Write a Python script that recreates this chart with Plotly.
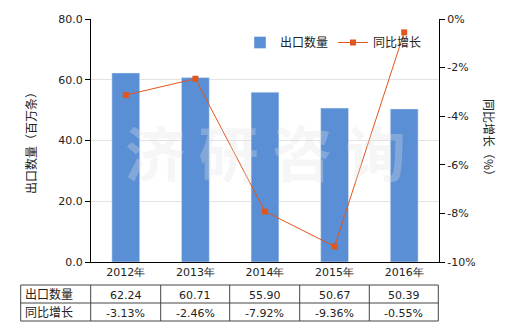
import plotly.graph_objects as go

years = ["2012年", "2013年", "2014年", "2015年", "2016年"]
export_qty = [62.24, 60.71, 55.90, 50.67, 50.39]
yoy_growth = [-3.13, -2.46, -7.92, -9.36, -0.55]
qty_labels = ["62.24", "60.71", "55.90", "50.67", "50.39"]
yoy_labels = ["-3.13%", "-2.46%", "-7.92%", "-9.36%", "-0.55%"]
left_ticks = [0, 20, 40, 60, 80]
right_ticks = [0, -2, -4, -6, -8, -10]

W, H = 520, 330
L, R, T, B = 91, 439, 19, 262

def px(x):
    return (x - L) / (R - L)

def py(y):
    return (B - y) / (B - T)

CJK = "Noto Sans CJK SC"
NUM = "DejaVu Sans"
bar_color = "#5b8fd5"
line_color = "#e0561c"

fig = go.Figure()
fig.add_trace(go.Bar(x=years, y=export_qty, name="出口数量", marker_color=bar_color,
                     width=0.4, yaxis="y"))
fig.add_trace(go.Scatter(x=years, y=yoy_growth, name="同比增长", mode="lines+markers",
                         line=dict(color=line_color, width=1),
                         marker=dict(symbol="square", size=6, color=line_color),
                         yaxis="y2"))

fig.update_layout(
    width=W, height=H,
    margin=dict(l=L, r=W - R, t=T, b=H - B),
    plot_bgcolor="white", paper_bgcolor="white",
    showlegend=True,
    legend=dict(orientation="h", x=px(240), y=py(28), xanchor="left", yanchor="top",
                font=dict(family=CJK, size=12, color="#222"), bgcolor="rgba(0,0,0,0)",
                itemwidth=30, tracegroupgap=0),
    xaxis=dict(showline=True, linecolor="black", linewidth=1, ticks="",
               tickfont=dict(family=NUM, size=11, color="#222"), showgrid=False),
    yaxis=dict(range=[0, 80], tickvals=left_ticks, tickformat=".1f",
               showline=True, linecolor="black", ticks="outside", ticklen=5, tickcolor="black",
               gridcolor="#e3e3e3", tickfont=dict(family=NUM, size=11, color="#222"),
               zeroline=False),
    yaxis2=dict(range=[-10, 0], tickvals=right_ticks, ticktext=[f"{v}%" for v in right_ticks],
                overlaying="y", side="right", showline=True, linecolor="black",
                ticks="outside", ticklen=5, tickcolor="black", showgrid=False,
                tickfont=dict(family=NUM, size=11, color="#222"), zeroline=False),
    bargap=0.6,
)

annotations = []
# axis titles
annotations.append(dict(text="出口数量（百万条）", x=px(30), y=py(140), xref="paper", yref="paper",
                        xanchor="center", yanchor="middle",
                        showarrow=False, textangle=-90, font=dict(family=CJK, size=12, color="#222")))
annotations.append(dict(text="同比增长（%）", x=px(490), y=py(140), xref="paper", yref="paper",
                        xanchor="center", yanchor="middle",
                        showarrow=False, textangle=90, font=dict(family=CJK, size=12, color="#222")))
# watermark
annotations.append(dict(text="<b>济 研 咨 询</b>", x=px(265), y=py(150), xref="paper", yref="paper",
                        xanchor="center", yanchor="middle",
                        showarrow=False, font=dict(family=CJK, size=60, color="rgba(225,225,225,0.3)")))

# table
cols = [20.7, 90.7, 160.7, 229.7, 299.7, 369.3, 438.3]
rows = [285, 303, 321]
shapes = []
for x in cols:
    shapes.append(dict(type="line", xref="paper", yref="paper", x0=px(x), x1=px(x),
                       y0=py(rows[0]), y1=py(rows[-1]), line=dict(color="#444", width=1)))
for y in rows:
    shapes.append(dict(type="line", xref="paper", yref="paper", x0=px(cols[0]), x1=px(cols[-1]),
                       y0=py(y), y1=py(y), line=dict(color="#444", width=1)))

row_names = ["出口数量", "同比增长"]
row_vals = [qty_labels, yoy_labels]
for r in range(2):
    yc = (rows[r] + rows[r + 1]) / 2
    annotations.append(dict(text=row_names[r], x=px(cols[0] + 2), y=py(yc - 1), xref="paper", yref="paper",
                            xanchor="left", yanchor="middle", showarrow=False,
                            font=dict(family=CJK, size=12, color="#222")))
    for i, v in enumerate(row_vals[r]):
        xc = (cols[i + 1] + cols[i + 2]) / 2
        annotations.append(dict(text=v, x=px(xc), y=py(yc + 1), xref="paper", yref="paper",
                                xanchor="center", yanchor="middle",
                                showarrow=False, font=dict(family=NUM, size=11, color="#222")))

fig.update_layout(annotations=annotations, shapes=shapes)
fig.write_html("out.html")
